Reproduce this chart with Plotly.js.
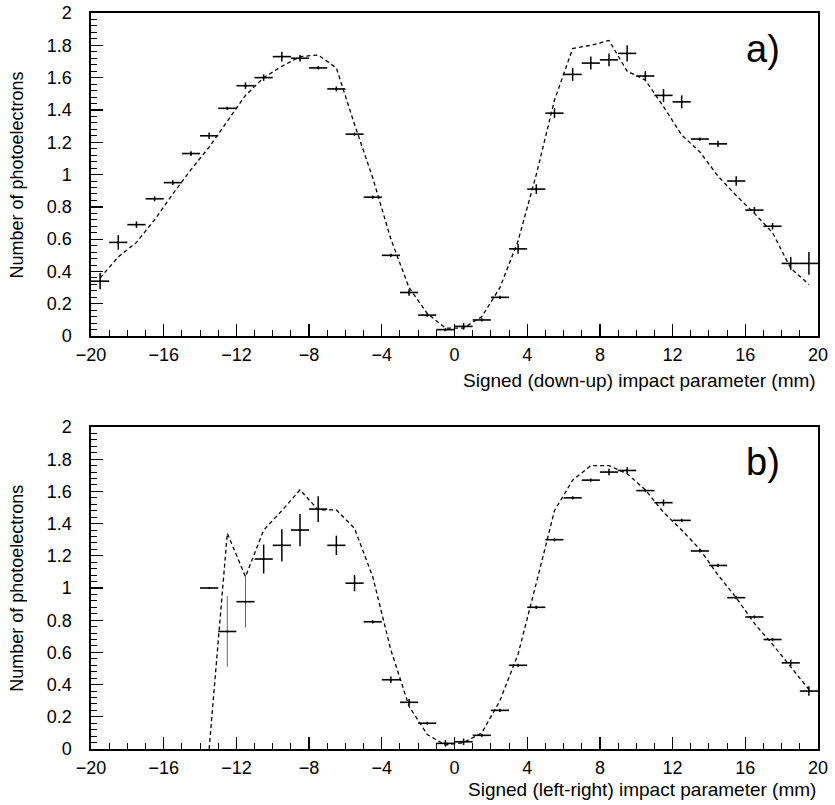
<!DOCTYPE html>
<html>
<head>
<meta charset="utf-8">
<script src="https://cdn.plot.ly/plotly-3.0.1.min.js"></script>
<style>html,body{margin:0;padding:0;background:#fff;}#chart{width:835px;height:805px;}</style>
</head>
<body>
<div id="chart"></div>
<script>
// ---- Panel a) : signed (down-up) impact parameter ----
const xA = [-19.5,-18.5,-17.5,-16.5,-15.5,-14.5,-13.5,-12.5,-11.5,-10.5,-9.5,-8.5,-7.5,-6.5,-5.5,-4.5,-3.5,-2.5,-1.5,-0.5,
             0.5,1.5,2.5,3.5,4.5,5.5,6.5,7.5,8.5,9.5,10.5,11.5,12.5,13.5,14.5,15.5,16.5,17.5,18.5,19.5];
const dataA = [0.34,0.58,0.69,0.85,0.95,1.13,1.24,1.41,1.55,1.60,1.73,1.72,1.66,1.53,1.25,0.86,0.50,0.27,0.13,0.04,
               0.06,0.10,0.24,0.54,0.91,1.38,1.62,1.69,1.71,1.75,1.61,1.49,1.45,1.22,1.19,0.96,0.78,0.68,0.45,0.45];
const errA  = [0.05,0.045,0.02,0.015,0.015,0.015,0.02,0.01,0.02,0.02,0.03,0.02,0.01,0.015,0.01,0.01,0.01,0.02,0.01,0.01,
               0.02,0.01,0.01,0.03,0.03,0.03,0.04,0.04,0.04,0.05,0.03,0.04,0.04,0.01,0.02,0.03,0.02,0.02,0.04,0.07];
const simA  = [0.36,0.49,0.58,0.72,0.88,1.03,1.17,1.33,1.49,1.60,1.67,1.73,1.74,1.66,1.31,0.98,0.60,0.30,0.14,0.05,
               0.05,0.12,0.30,0.59,1.00,1.46,1.78,1.80,1.83,1.64,1.585,1.42,1.245,1.14,0.99,0.87,0.76,0.64,0.42,0.32];

// ---- Panel b) : signed (left-right) impact parameter ----
const xB = [-13.5,-12.5,-11.5,-10.5,-9.5,-8.5,-7.5,-6.5,-5.5,-4.5,-3.5,-2.5,-1.5,-0.5,
             0.5,1.5,2.5,3.5,4.5,5.5,6.5,7.5,8.5,9.5,10.5,11.5,12.5,13.5,14.5,15.5,16.5,17.5,18.5,19.5];
const dataB = [1.00,0.73,0.915,1.18,1.265,1.36,1.49,1.265,1.03,0.79,0.43,0.29,0.16,0.035,
               0.045,0.085,0.24,0.52,0.88,1.30,1.56,1.67,1.72,1.73,1.605,1.53,1.42,1.23,1.14,0.94,0.82,0.68,0.535,0.36];
const errB  = [0,0.22,0.16,0.09,0.10,0.10,0.08,0.06,0.05,0.01,0.02,0.02,0.01,0.02,
               0.02,0.01,0.01,0.01,0.01,0.01,0.01,0.01,0.02,0.02,0.01,0.02,0.01,0.01,0.01,0.01,0.01,0.01,0.02,0.03];
const simB  = [0.0,1.34,1.07,1.36,1.48,1.61,1.485,1.485,1.37,1.07,0.615,0.265,0.09,0.025,
               0.04,0.10,0.30,0.59,1.03,1.48,1.67,1.76,1.76,1.71,1.61,1.47,1.36,1.24,1.08,0.94,0.78,0.65,0.51,0.37];
// bins whose vertical error bars are drawn faint (dotted) in the original
const faintB = [-12.5, -11.5];

const xTitleA = "Signed (down-up) impact parameter (mm)";
const xTitleB = "Signed (left-right) impact parameter (mm)";
const yTitle = "Number of photoelectrons";

const FONT = "Liberation Sans, Arial, Helvetica, sans-serif";
const LIGHT = "Liberation Sans, Arial, sans-serif";

function dataTrace(x, y, e, xa, ya, opts) {
  opts = opts || {};
  return {
    x: x, y: y, xaxis: xa, yaxis: ya, type: 'scatter', mode: 'markers',
    marker: {size: 2, color: '#000'},
    error_y: {type: 'data', array: e, visible: true, color: opts.ecolor || '#000', thickness: opts.eth || 1.5, width: 0},
    error_x: {type: 'constant', value: 0.5, visible: true, color: '#000', thickness: 1.6, width: 0},
    showlegend: false, hoverinfo: 'skip'
  };
}
function simTrace(x, y, xa, ya) {
  return {
    x: x, y: y, xaxis: xa, yaxis: ya, type: 'scatter', mode: 'lines',
    line: {color: '#000', width: 1.3, dash: '4px,3px'},
    showlegend: false, hoverinfo: 'skip'
  };
}

const xaxisBase = {
  range: [-20, 20], tick0: -20, dtick: 4, ticks: 'inside', ticklen: 12, tickwidth: 1.3, tickcolor: '#000',
  showline: true, linecolor: '#000', linewidth: 1.6, mirror: true,
  showgrid: false, zeroline: false,
  minor: {dtick: 1, ticks: 'inside', ticklen: 6, tickwidth: 1, tickcolor: '#000', showgrid: false},
  tickfont: {family: FONT, size: 18, color: '#000'}, ticklabelstandoff: 2
};
const yaxisBase = {
  range: [0, 2], dtick: 0.2, ticks: 'inside', ticklen: 12, tickwidth: 1.3, tickcolor: '#000',
  showline: true, linecolor: '#000', linewidth: 1.6, mirror: true,
  showgrid: false, zeroline: false,
  minor: {dtick: 0.04, ticks: 'inside', ticklen: 6, tickwidth: 1, tickcolor: '#000', showgrid: false},
  tickfont: {family: FONT, size: 18, color: '#000'}, ticklabelstandoff: 14
};

// split panel b) into normal and faint-error-bar points
const nB = {x: [], y: [], e: []}, fB = {x: [], y: [], e: []};
xB.forEach((xv, i) => {
  const t = faintB.includes(xv) ? fB : nB;
  t.x.push(xv); t.y.push(dataB[i]); t.e.push(errB[i]);
});

const traces = [
  simTrace(xA, simA, 'x', 'y'),
  dataTrace(xA, dataA, errA, 'x', 'y'),
  simTrace(xB, simB, 'x2', 'y2'),
  dataTrace(nB.x, nB.y, nB.e, 'x2', 'y2'),
  dataTrace(fB.x, fB.y, fB.e, 'x2', 'y2', {ecolor: '#666', eth: 1})
];

const layout = {
  width: 835, height: 805,
  margin: {l: 91, r: 17, t: 13, b: 56},
  paper_bgcolor: '#fff', plot_bgcolor: '#fff',
  font: {family: FONT, color: '#000'},
  xaxis: Object.assign({}, xaxisBase, {anchor: 'y', domain: [0, 1]}),
  yaxis: Object.assign({}, yaxisBase, {anchor: 'x', domain: [0.561, 1]}),
  xaxis2: Object.assign({}, xaxisBase, {anchor: 'y2', domain: [0, 1]}),
  yaxis2: Object.assign({}, yaxisBase, {anchor: 'x2', domain: [0, 0.4375]}),
  annotations: [
    {text: xTitleA, xref: 'paper', yref: 'paper', x: 1, y: 0.561, yshift: -44, xanchor: 'right', yanchor: 'middle',
     showarrow: false, font: {family: FONT, size: 19, color: '#000'}},
    {text: xTitleB, xref: 'paper', yref: 'paper', x: 1, y: 0, yshift: -40, xanchor: 'right', yanchor: 'middle',
     showarrow: false, font: {family: FONT, size: 19, color: '#000'}},
    {text: yTitle, xref: 'paper', yref: 'paper', x: -0.1018, y: 0.7805, textangle: -90, xanchor: 'center', yanchor: 'middle',
     showarrow: false, font: {family: FONT, size: 18, color: '#000'}},
    {text: yTitle, xref: 'paper', yref: 'paper', x: -0.1018, y: 0.219, textangle: -90, xanchor: 'center', yanchor: 'middle',
     showarrow: false, font: {family: FONT, size: 18, color: '#000'}},
    {text: 'a)', xref: 'x', yref: 'y', x: 17, y: 1.78, showarrow: false, xanchor: 'center', yanchor: 'middle',
     font: {family: LIGHT, size: 38, color: '#000'}},
    {text: 'b)', xref: 'x2', yref: 'y2', x: 17, y: 1.78, showarrow: false, xanchor: 'center', yanchor: 'middle',
     font: {family: LIGHT, size: 38, color: '#000'}}
  ]
};

Plotly.newPlot('chart', traces, layout, {staticPlot: true, displayModeBar: false});
</script>
</body>
</html>
